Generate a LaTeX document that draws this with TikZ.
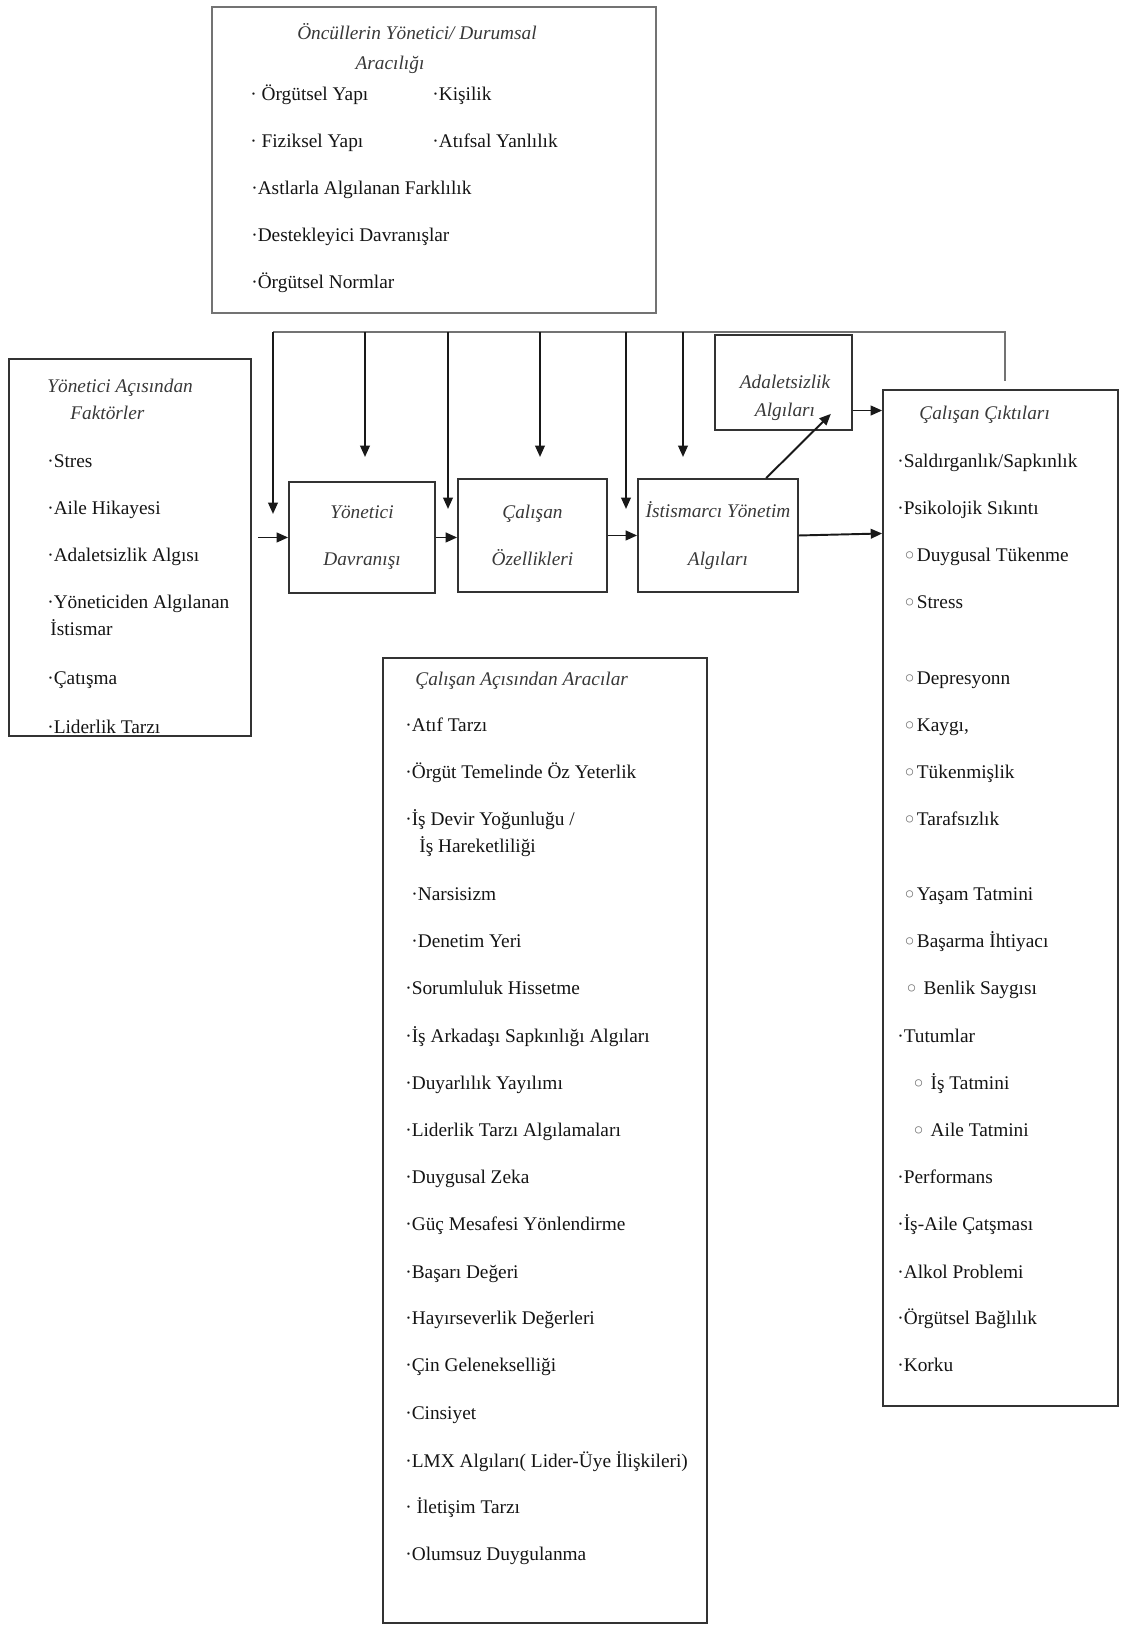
\documentclass[tikz,border=0pt]{standalone}
\usepackage{fontspec}
\setmainfont{Liberation Serif}
\newfontfamily\simge{DejaVu Sans}
\usetikzlibrary{positioning,arrows.meta,calc}

\newcommand{\halka}{\raisebox{-1.6pt}{\simge\fontsize{14}{14}\selectfont\color{black!55}◦}}

\begin{document}
\begin{tikzpicture}[
    box/.style={rectangle, draw=black!80, line width=1pt, inner sep=0pt},
    arrow/.style={-{Triangle[length=6.5pt,width=5.5pt]}, line width=1.1pt, black!90},
    feed/.style={draw=black!55, line width=0.8pt},
    item/.style={anchor=base west, inner sep=0pt, text=black!92, font=\fontsize{11}{13}\selectfont},
    head/.style={inner sep=0pt, text=black!78, font=\itshape\fontsize{11}{13}\selectfont},
    stage/.style={box, align=center, text=black!78, font=\itshape\fontsize{11}{27}\selectfont}
]
\useasboundingbox (0,0) rectangle (22.42,32.54);

% Antecedents (top)
\node[box, draw=black!55, minimum width=8.88cm, minimum height=6.12cm] (oncul) at (8.68,29.34) {};
\node[head, anchor=base] (oncul-t1) at (8.34,31.74) {Öncüllerin Yönetici/ Durumsal};
\node[head, anchor=base] (oncul-t2) at (7.80,31.14) {Aracılığı};
\foreach \x/\y/\t [count=\i] in {5.00/30.52/{· Örgütsel Yapı}, 8.64/30.52/{·Kişilik},
    5.00/29.58/{· Fiziksel Yapı}, 8.64/29.58/{·Atıfsal Yanlılık},
    5.02/28.64/{·Astlarla Algılanan Farklılık}, 5.02/27.70/{·Destekleyici Davranışlar},
    5.02/26.76/{·Örgütsel Normlar}}
  \node[item] (oncul-\i) at (\x,\y) {\t};

% Manager factors (left)
\node[box, minimum width=4.84cm, minimum height=7.54cm] (faktor) at (2.60,21.59) {};
\node[head, anchor=base west] (faktor-t1) at (0.94,24.68) {Yönetici Açısından};
\node[head, anchor=base west] (faktor-t2) at (1.40,24.14) {Faktörler};
\foreach \x/\y/\t [count=\i] in {0.94/23.18/{·Stres}, 0.94/22.24/{·Aile Hikayesi},
    0.94/21.30/{·Adaletsizlik Algısı}, 0.94/20.36/{·Yöneticiden Algılanan},
    1.00/19.82/{İstismar}, 0.94/18.84/{·Çatışma}, 0.94/17.86/{·Liderlik Tarzı}}
  \node[item] (faktor-\i) at (\x,\y) {\t};

% Chain of stages
\node[stage, minimum width=2.92cm, minimum height=2.22cm] (yonetici) at (7.24,21.79) {Yönetici\\Davranışı};
\node[stage, minimum width=2.98cm, minimum height=2.26cm] (calisan) at (10.65,21.83) {Çalışan\\Özellikleri};
\node[stage, minimum width=3.20cm, minimum height=2.26cm] (istismar) at (14.36,21.83) {İstismarcı Yönetim\\Algıları};
\node[box, minimum width=2.74cm, minimum height=1.90cm] (adalet) at (15.67,24.89) {};
\node[stage, draw=none, font=\itshape\fontsize{11}{16}\selectfont] (adalet-t) at (15.70,24.58) {Adaletsizlik\\Algıları};

% Employee mediators (middle)
\node[box, minimum width=6.48cm, minimum height=19.30cm] (aracilar) at (10.90,9.73) {};
\node[head, anchor=base west] (aracilar-t) at (8.30,18.82) {Çalışan Açısından Aracılar};
\foreach \x/\y/\t [count=\i] in {8.10/17.90/{·Atıf Tarzı}, 8.10/16.96/{·Örgüt Temelinde Öz Yeterlik},
    8.10/16.02/{·İş Devir Yoğunluğu /}, 8.38/15.48/{İş Hareketliliği},
    8.22/14.52/{·Narsisizm}, 8.22/13.58/{·Denetim Yeri},
    8.10/12.64/{·Sorumluluk Hissetme}, 8.10/11.68/{·İş Arkadaşı Sapkınlığı Algıları},
    8.10/10.74/{·Duyarlılık Yayılımı}, 8.10/9.80/{·Liderlik Tarzı Algılamaları},
    8.10/8.86/{·Duygusal Zeka}, 8.10/7.92/{·Güç Mesafesi Yönlendirme},
    8.10/6.96/{·Başarı Değeri}, 8.10/6.04/{·Hayırseverlik Değerleri},
    8.10/5.10/{·Çin Gelenekselliği}, 8.10/4.14/{·Cinsiyet},
    8.10/3.18/{·LMX Algıları( Lider-Üye İlişkileri)}, 8.10/2.26/{· İletişim Tarzı},
    8.10/1.32/{·Olumsuz Duygulanma}}
  \node[item] (aracilar-\i) at (\x,\y) {\t};

% Employee outcomes (right)
\node[box, minimum width=4.70cm, minimum height=20.32cm] (cikti) at (20.01,14.58) {};
\node[head, anchor=base west] (cikti-t) at (18.38,24.14) {Çalışan Çıktıları};
\foreach \x/\y/\t [count=\i] in {17.94/23.18/{·Saldırganlık/Sapkınlık}, 17.94/22.24/{·Psikolojik Sıkıntı},
    18.04/21.30/{\halka Duygusal Tükenme}, 18.04/20.36/{\halka Stress},
    18.04/18.84/{\halka Depresyonn}, 18.04/17.90/{\halka Kaygı,},
    18.04/16.96/{\halka Tükenmişlik}, 18.04/16.02/{\halka Tarafsızlık},
    18.04/14.52/{\halka Yaşam Tatmini}, 18.04/13.58/{\halka Başarma İhtiyacı},
    18.08/12.64/{\halka\ Benlik Saygısı}, 17.94/11.68/{·Tutumlar},
    18.22/10.74/{\halka\ İş Tatmini}, 18.22/9.80/{\halka\ Aile Tatmini},
    17.94/8.86/{·Performans}, 17.94/7.92/{·İş-Aile Çatşması},
    17.94/6.96/{·Alkol Problemi}, 17.94/6.04/{·Örgütsel Bağlılık},
    17.94/5.10/{·Korku}}
  \node[item] (cikti-\i) at (\x,\y) {\t};

% Feed line with drops
\coordinate (bus-w) at (5.46,25.90);
\coordinate (bus-e) at (20.10,25.90);
\draw[feed] (bus-w) -- (bus-e) -- (bus-e |- cikti.north) [shorten >=4.5pt];
\foreach \x/\y [count=\i] in {5.46/22.26, 7.30/23.40, 8.96/22.36, 10.80/23.40, 12.52/22.36, 13.66/23.40} {
  \coordinate (drop-\i) at (\x,\y);
  \draw[arrow] (drop-\i |- bus-w) -- (drop-\i);
}

% Arrows
\draw[arrow, shorten <=3.5pt] (yonetici.west -| faktor.east) -- (yonetici.west);
\draw[arrow] (yonetici.east) -- (yonetici.east -| calisan.west);
\draw[arrow] (calisan.east) -- (calisan.east -| istismar.west);
\draw[arrow] (istismar.east) -- ($(istismar.east -| cikti.west)+(0,0.04)$);
\draw[arrow] (istismar.50) -- ($(adalet.south east)+(-0.44,0.34)$);
\draw[arrow] (adalet.-22) -- (adalet.-22 -| cikti.west);

\end{tikzpicture}
\end{document}
